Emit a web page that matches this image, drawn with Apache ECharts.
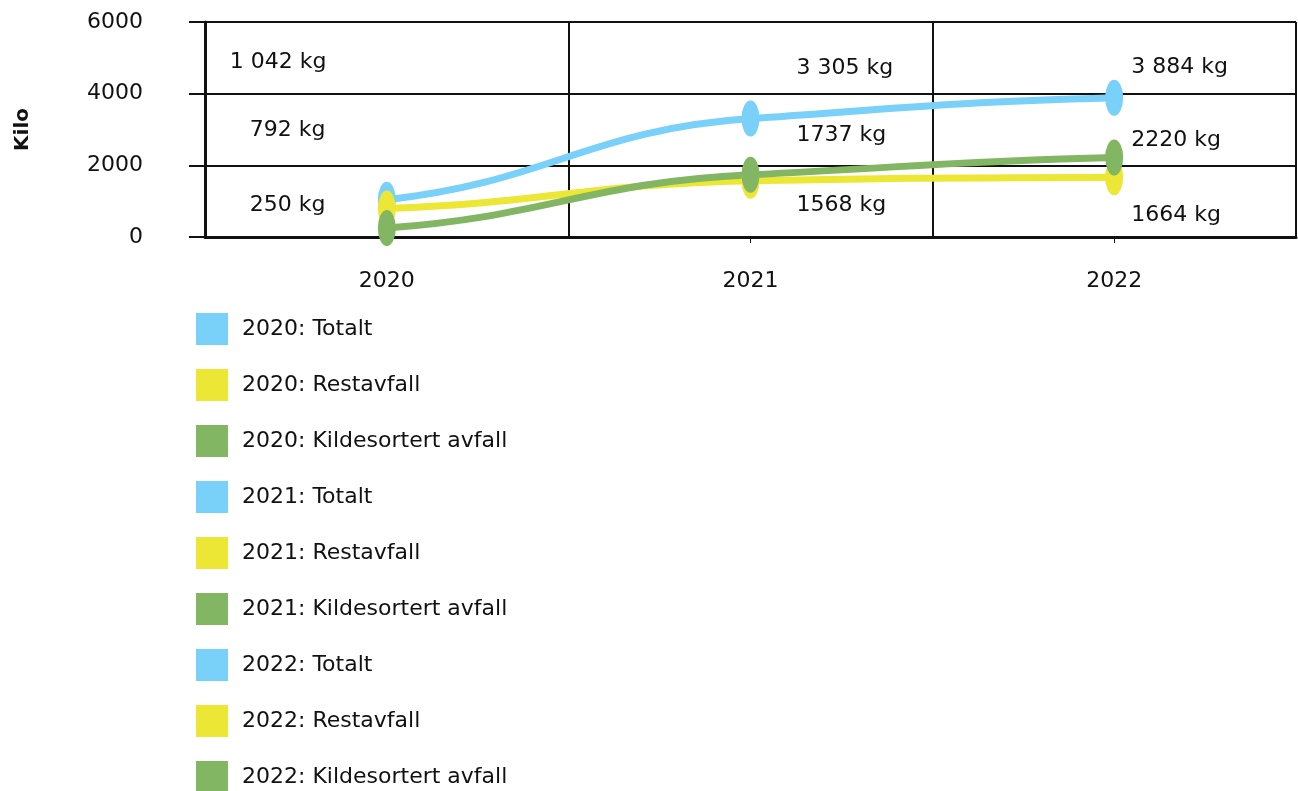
<!DOCTYPE html>
<html>
<head>
<meta charset="utf-8">
<script src="https://cdn.jsdelivr.net/npm/echarts@6/dist/echarts.min.js"></script>
<style>html,body{margin:0;padding:0;background:#fff}#c{width:1298px;height:791px}</style>
</head>
<body>
<div id="c"></div>
<script>
const categories = ['2020', '2021', '2022'];
const totalt = [1042, 3305, 3884];
const restavfall = [792, 1568, 1664];
const kildesortert = [250, 1737, 2220];
const totaltLabels = ['1 042 kg', '3 305 kg', '3 884 kg'];
const restLabels = ['792 kg', '1568 kg', '1664 kg'];
const kildeLabels = ['250 kg', '1737 kg', '2220 kg'];
const legendNames = ['2020: Totalt', '2020: Restavfall', '2020: Kildesortert avfall',
  '2021: Totalt', '2021: Restavfall', '2021: Kildesortert avfall',
  '2022: Totalt', '2022: Restavfall', '2022: Kildesortert avfall'];
const yTicks = [0, 2000, 4000, 6000];

const BLUE = '#79D0F9', YELLOW = '#ECE634', GREEN = '#82B663';
const legendColors = [BLUE, YELLOW, GREEN, BLUE, YELLOW, GREEN, BLUE, YELLOW, GREEN];
const FONT = 'DejaVu Sans';

// label offsets (style only), left-aligned from point centre
const totaltOff = [[-157, -137], [46, -50], [17, -31]];
const restOff = [[-137, -78], [46, 24], [17, 38]];
const kildeOff = [[-137, -23], [46, -39], [17, -17]];

function mkData(vals, labels, offs) {
  return vals.map((v, i) => ({
    value: v,
    label: { show: true, formatter: labels[i], offset: offs[i] }
  }));
}
function pointSeries(name, vals, labels, offs, color, z) {
  return {
    name: name, type: 'line',
    data: mkData(vals, labels, offs),
    symbol: 'circle', symbolSize: [18, 36],
    itemStyle: { color: color },
    lineStyle: { opacity: 0, width: 0 },
    label: { position: 'inside', align: 'left', verticalAlign: 'middle',
      color: '#111', fontSize: 22, fontFamily: FONT },
    emphasis: { disabled: true },
    z: z,
    animation: false
  };
}
// gently smoothed curve (damped Hermite tangents) drawn through the axes' scales
function curveSeries(vals, color, z) {
  const K = 0.45, A = 0.5;
  return {
    type: 'custom', silent: true, z: z,
    data: vals.map((v, i) => [i, v]),
    encode: { x: 0, y: 1 },
    renderItem: function (params, api) {
      const i = params.dataIndex;
      const n = vals.length;
      if (i >= n - 1) return null;
      const P = vals.map((v, j) => api.coord([j, v]));
      function tan(j) {
        const a = P[Math.max(0, j - 1)], b = P[Math.min(n - 1, j + 1)];
        return A * (b[1] - a[1]) / (b[0] - a[0]);
      }
      const p0 = P[i], p1 = P[i + 1];
      const h = K * (p1[0] - p0[0]);
      const m0 = tan(i), m1 = tan(i + 1);
      return {
        type: 'bezierCurve',
        shape: { x1: p0[0], y1: p0[1], cpx1: p0[0] + h, cpy1: p0[1] + h * m0,
          cpx2: p1[0] - h, cpy2: p1[1] - h * m1, x2: p1[0], y2: p1[1] },
        style: { stroke: color, lineWidth: 7, fill: null, lineCap: 'round' }
      };
    },
    animation: false
  };
}

const series = [
  curveSeries(totalt, BLUE, 2),
  curveSeries(restavfall, YELLOW, 3),
  curveSeries(kildesortert, GREEN, 4),
  pointSeries('Totalt', totalt, totaltLabels, totaltOff, BLUE, 5),
  pointSeries('Restavfall', restavfall, restLabels, restOff, YELLOW, 6),
  pointSeries('Kildesortert avfall', kildesortert, kildeLabels, kildeOff, GREEN, 7)
];
legendNames.forEach((n, i) => {
  series.push({ name: n, type: 'bar', data: [], itemStyle: { color: legendColors[i] }, animation: false });
});

const chart = echarts.init(document.getElementById('c'));
chart.setOption({
  animation: false,
  textStyle: { fontFamily: FONT },
  grid: { left: 205, right: 2, top: 22, bottom: 554 },
  legend: {
    orient: 'vertical', left: 196, top: 313, height: 700, padding: 0,
    itemWidth: 32, itemHeight: 32, itemGap: 24, icon: 'rect',
    data: legendNames,
    selectedMode: false,
    textStyle: { fontSize: 22, color: '#111', fontFamily: FONT, padding: [0, 0, 0, 9] }
  },
  xAxis: {
    type: 'category', data: categories, boundaryGap: true,
    axisLine: { lineStyle: { color: '#111', width: 3 } },
    axisTick: { show: true, alignWithLabel: true, length: 6, lineStyle: { color: '#111', width: 1 } },
    axisLabel: { fontSize: 22, color: '#111', margin: 33, fontFamily: FONT },
    splitLine: { show: true, lineStyle: { color: '#111', width: 2 } }
  },
  yAxis: {
    type: 'value', min: yTicks[0], max: yTicks[yTicks.length - 1], interval: 2000,
    name: 'Kilo', nameLocation: 'middle', nameGap: 172,
    nameTextStyle: { fontSize: 20, fontWeight: 'bold', color: '#111', fontFamily: FONT },
    axisLine: { show: true, lineStyle: { color: '#111', width: 3 } },
    axisTick: { show: true, length: 16, lineStyle: { color: '#111', width: 2 } },
    axisLabel: { fontSize: 22, color: '#111', margin: 62, fontFamily: FONT,
      formatter: function (v) { return String(v); } },
    splitLine: { show: true, lineStyle: { color: '#111', width: 2 } }
  },
  series: series
});
</script>
</body>
</html>
